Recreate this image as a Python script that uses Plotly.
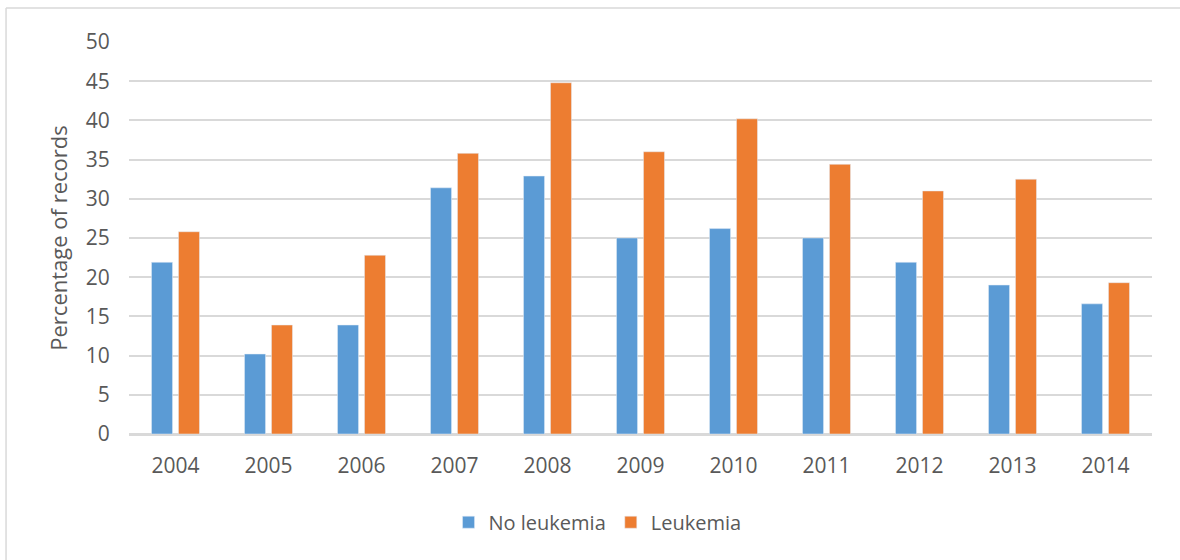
import plotly.graph_objects as go

years = ["2004", "2005", "2006", "2007", "2008", "2009", "2010", "2011", "2012", "2013", "2014"]
no_leukemia = [21.9, 10.2, 13.9, 31.4, 32.9, 25.0, 26.2, 25.0, 21.9, 19.0, 16.6]
leukemia = [25.8, 13.9, 22.8, 35.8, 44.8, 36.0, 40.2, 34.4, 31.0, 32.5, 19.3]
y_ticks = [0, 5, 10, 15, 20, 25, 30, 35, 40, 45, 50]

FONT = "Open Sans"
TEXT = "#595959"
GRID = "#d9d9d9"

fig = go.Figure()
fig.add_trace(go.Bar(name="No leukemia", x=years, y=no_leukemia, marker_color="#5B9BD5"))
fig.add_trace(go.Bar(name="Leukemia", x=years, y=leukemia, marker_color="#ED7D31"))

# chart frame: thin light border along the top and left edges
frame = dict(type="line", xref="paper", yref="paper", line=dict(color="#d9d9d9", width=1.5))
fig.add_shape(**frame, x0=-0.1202, x1=-0.1202, y0=1.0867, y1=-0.35)
fig.add_shape(**frame, x0=-0.1202, x1=1.03, y0=1.0867, y1=1.0867)

fig.update_layout(
    width=1180,
    height=560,
    margin=dict(l=129, r=28, t=42, b=126),
    paper_bgcolor="white",
    plot_bgcolor="white",
    barmode="group",
    bargap=0.42,
    bargroupgap=0.22,
    font=dict(family=FONT, size=20, color=TEXT),
    showlegend=True,
    legend=dict(
        orientation="h",
        x=0.458,
        xanchor="center",
        y=-0.225,
        yanchor="middle",
        font=dict(family=FONT, size=20, color=TEXT),
        itemwidth=30,
        traceorder="normal",
    ),
)
fig.update_xaxes(
    type="category",
    showgrid=False,
    showline=True,
    linecolor=GRID,
    linewidth=1.5,
    ticks="outside",
    ticklen=12,
    tickcolor="rgba(0,0,0,0)",
    tickfont=dict(family=FONT, size=21, color=TEXT),
)
fig.update_yaxes(
    range=[0, 50],
    tickvals=y_ticks,
    showgrid=True,
    gridcolor=GRID,
    gridwidth=1.5,
    zeroline=True,
    zerolinecolor=GRID,
    zerolinewidth=1.5,
    ticks="outside",
    ticklen=14,
    tickcolor="rgba(0,0,0,0)",
    tickfont=dict(family=FONT, size=21, color=TEXT),
    title=dict(text="Percentage of records", font=dict(family=FONT, size=22, color=TEXT), standoff=12),
)

fig.write_html("out.html")
